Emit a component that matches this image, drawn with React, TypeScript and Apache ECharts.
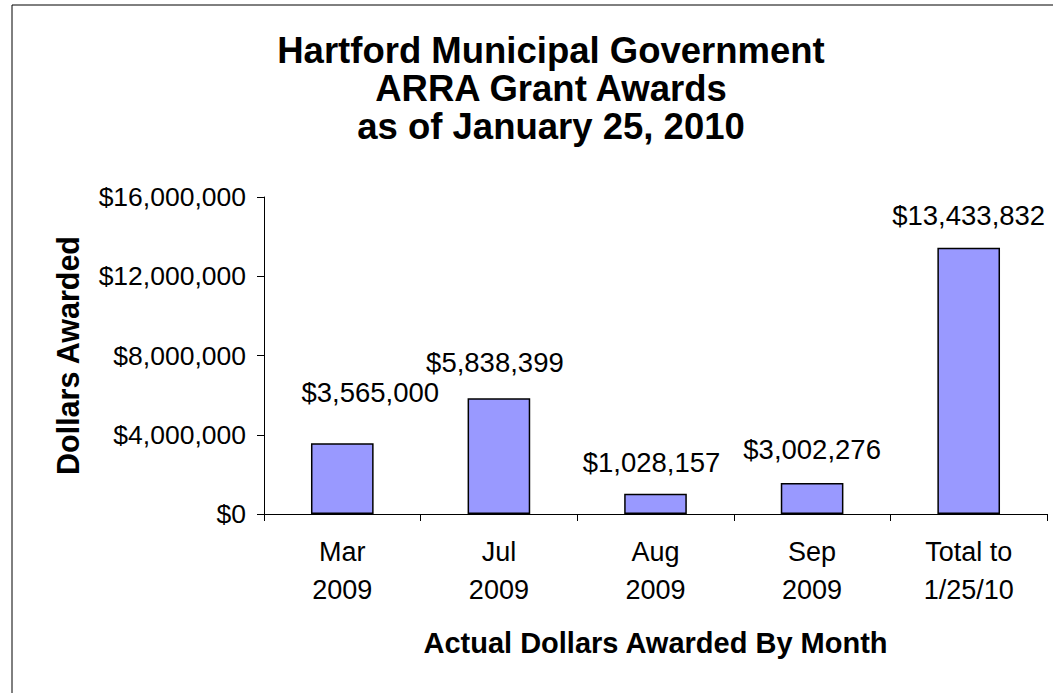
import React, { useEffect, useRef } from "react";
import * as echarts from "echarts";

const categories = ["Mar\n2009", "Jul\n2009", "Aug\n2009", "Sep\n2009", "Total to\n1/25/10"];
// bar heights as drawn in the picture
const values = [3565000, 5838399, 1028157, 1560000, 13433832];
// data label texts as printed in the picture
const labelTexts = ["$3,565,000", "$5,838,399", "$1,028,157", "$3,002,276", "$13,433,832"];
const labelDistances = [37, 22, 17, 20, 18];
const labelShiftX = [28, -4, -4, 0, 0];
const yTicks = { min: 0, max: 16000000, interval: 4000000 };

const FONT = "Arial, 'Liberation Sans', Helvetica, sans-serif";
const fmt = (v: number) => "$" + Math.round(v).toString().replace(/\B(?=(\d{3})+(?!\d))/g, ",");

export default function App() {
  const ref = useRef<HTMLDivElement>(null);
  useEffect(() => {
    if (!ref.current) return;
    const chart = echarts.init(ref.current, null, { renderer: "svg" });
    chart.setOption({
      animation: false,
      backgroundColor: "#ffffff",
      textStyle: { fontFamily: FONT },
      title: {
        text: "Hartford Municipal Government\nARRA Grant Awards\nas of January 25, 2010",
        left: 546,
        top: 26,
        textAlign: "center",
        textStyle: { fontFamily: FONT, fontSize: 36.5, fontWeight: "bold", color: "#000", lineHeight: 38 },
      },
      graphic: [
        { type: "line", shape: { x1: 12, y1: 5, x2: 1053, y2: 5 }, style: { stroke: "#000", lineWidth: 1 } },
        { type: "line", shape: { x1: 12, y1: 5, x2: 12, y2: 693 }, style: { stroke: "#000", lineWidth: 1 } },
      ],
      grid: { left: 264, right: 10, top: 197, bottom: 179, containLabel: false },
      xAxis: {
        type: "category",
        data: categories,
        boundaryGap: true,
        axisLine: { lineStyle: { color: "#000", width: 1 } },
        axisTick: { show: true, length: 7, lineStyle: { color: "#000" } },
        axisLabel: { fontFamily: FONT, fontSize: 27, color: "#000", lineHeight: 38, margin: 19, interval: 0 },
        name: "Actual Dollars Awarded By Month",
        nameLocation: "middle",
        nameGap: 114,
        nameTextStyle: { fontFamily: FONT, fontSize: 29, fontWeight: "bold", color: "#000" },
      },
      yAxis: {
        type: "value",
        min: yTicks.min,
        max: yTicks.max,
        interval: yTicks.interval,
        splitLine: { show: false },
        axisLine: { show: true, lineStyle: { color: "#000", width: 1 } },
        axisTick: { show: true, length: 7, lineStyle: { color: "#000" } },
        axisLabel: { fontFamily: FONT, fontSize: 26.5, color: "#000", margin: 18, formatter: (v: number) => fmt(v) },
        name: "Dollars Awarded",
        nameLocation: "middle",
        nameRotate: 90,
        nameGap: 181,
        nameTextStyle: { fontFamily: FONT, fontSize: 30.5, fontWeight: "bold", color: "#000" },
      },
      series: [
        {
          type: "bar",
          barWidth: "40%",
          data: values.map((v, i) => ({
            value: v,
            label: { distance: labelDistances[i], offset: [labelShiftX[i], 0] },
          })),
          itemStyle: { color: "#9999FF", borderColor: "#000", borderWidth: 1.5 },
          label: {
            show: true,
            position: "top",
            fontFamily: FONT,
            fontSize: 27.5,
            color: "#000",
            formatter: (p: any) => labelTexts[p.dataIndex],
          },
        },
      ],
    });
    return () => chart.dispose();
  }, []);
  return <div ref={ref} style={{ position: "absolute", left: 0, top: 0, width: 1057, height: 693 }} />;
}
